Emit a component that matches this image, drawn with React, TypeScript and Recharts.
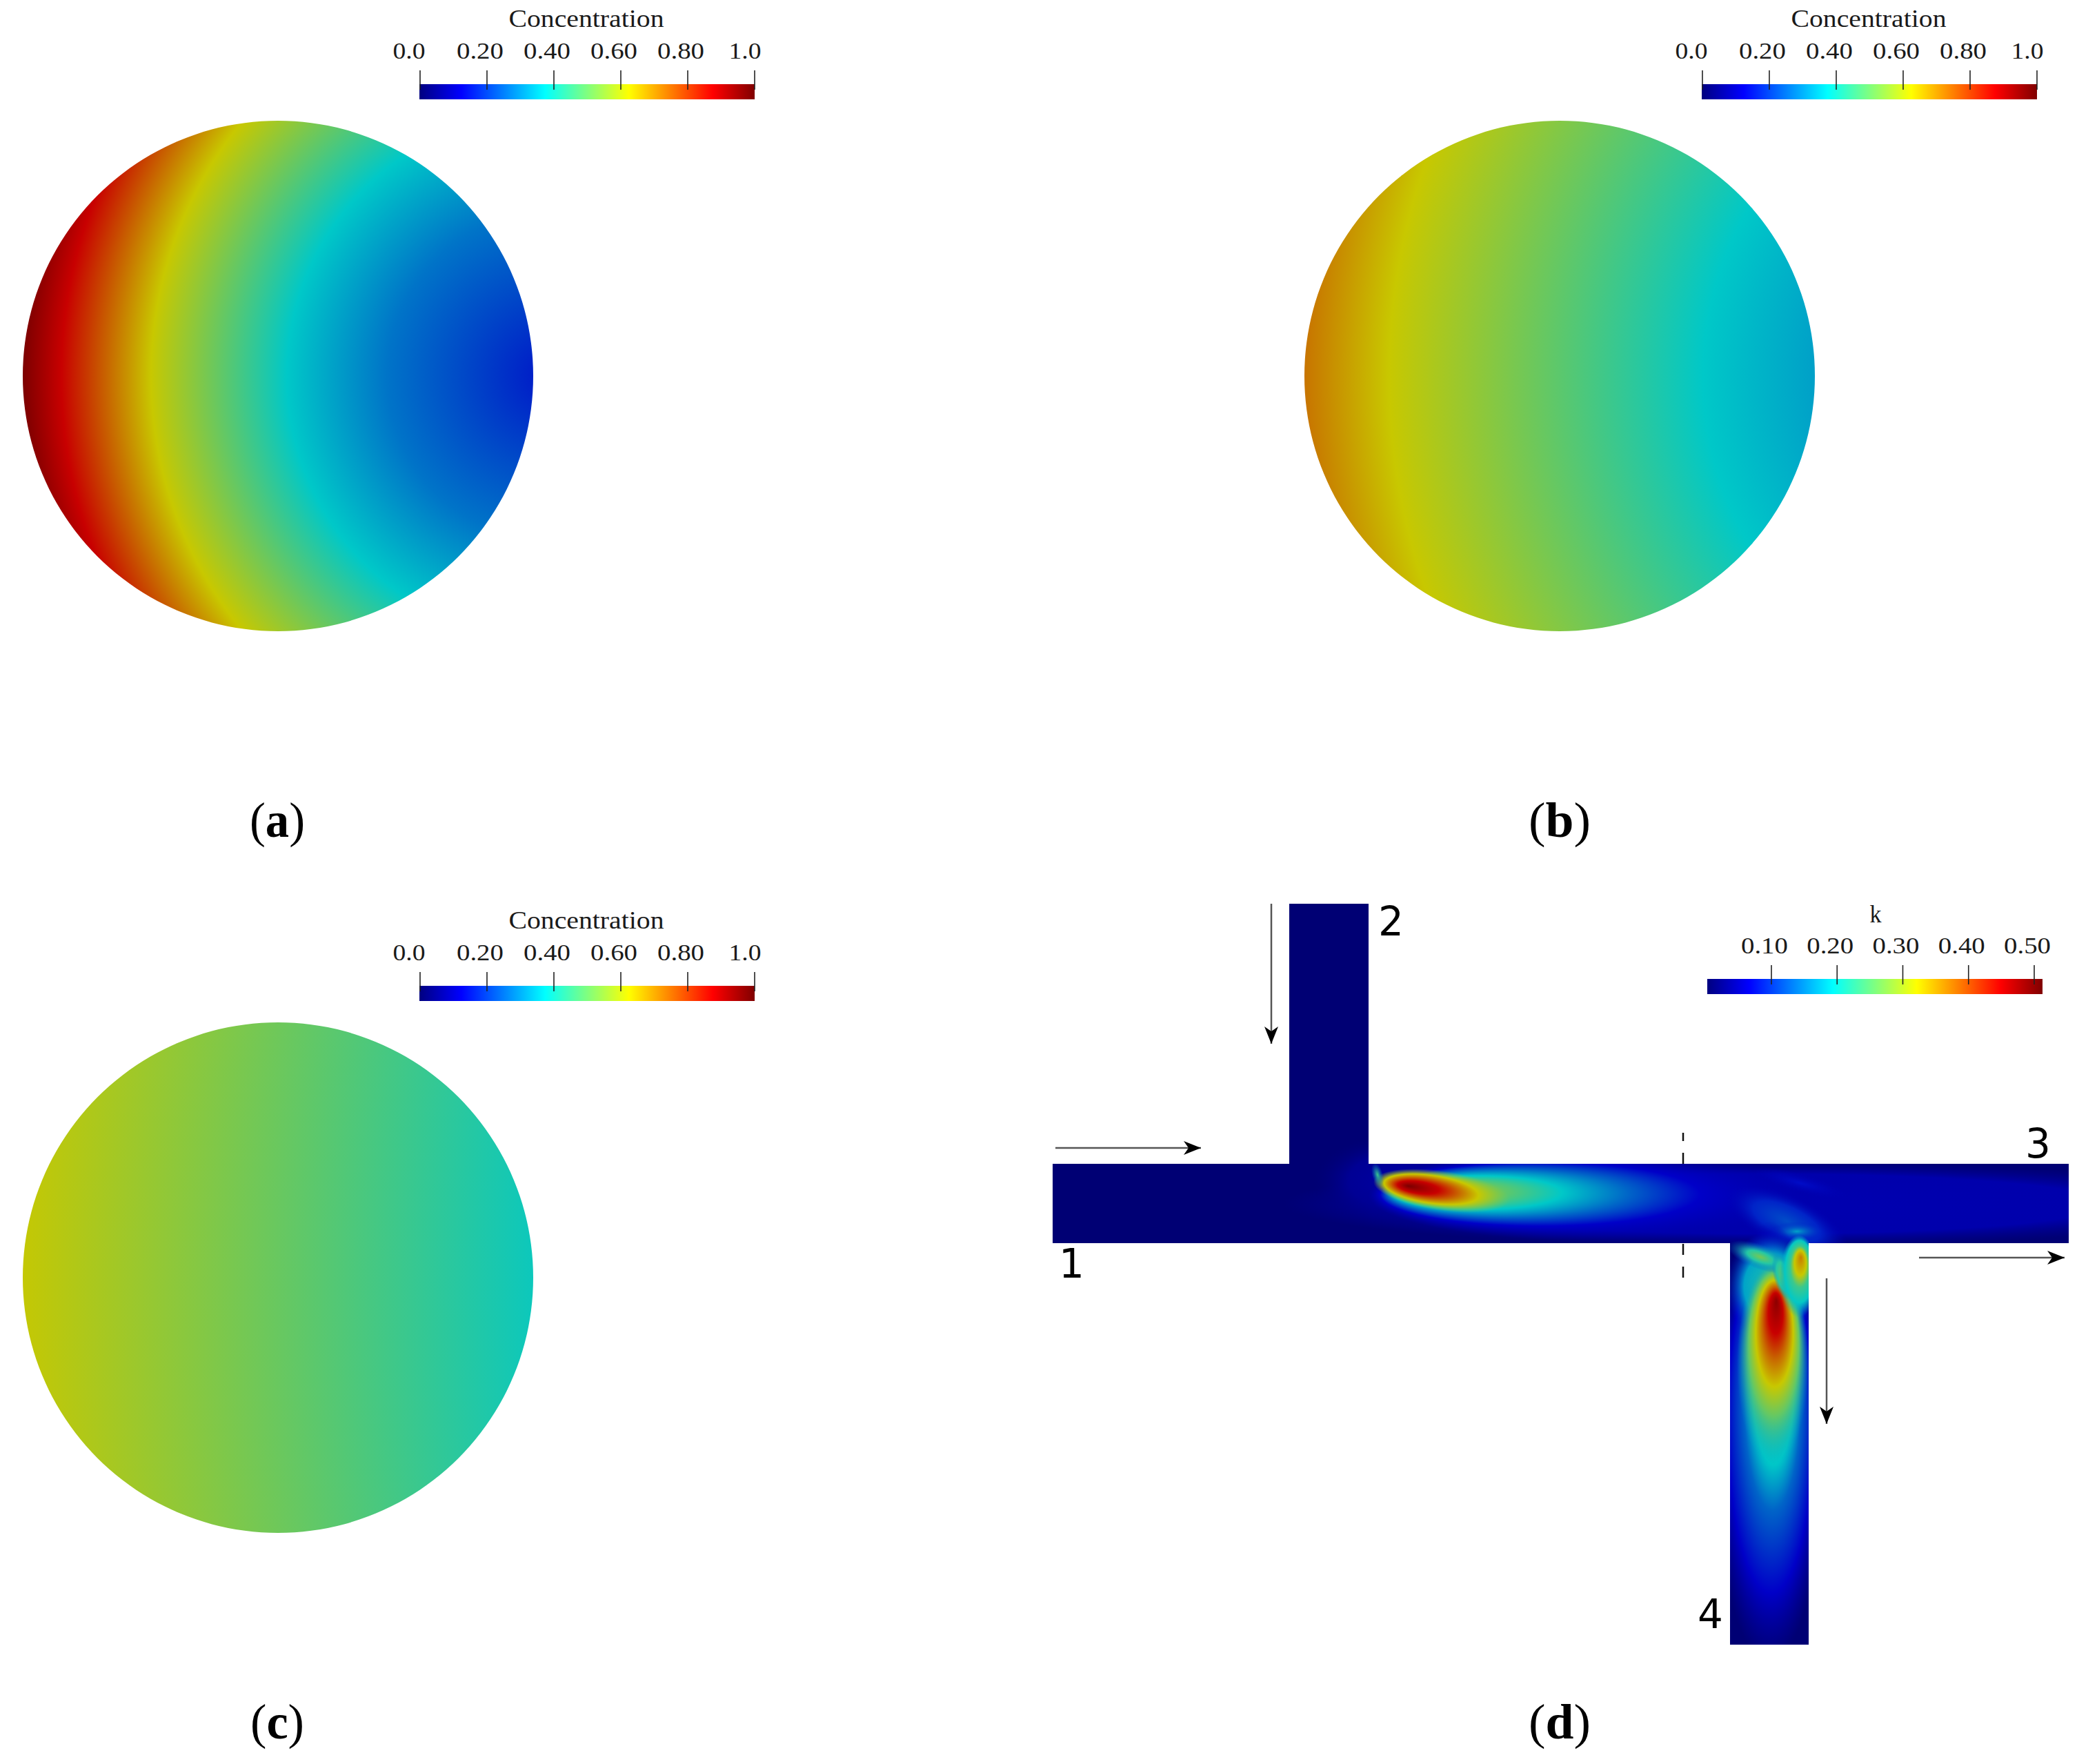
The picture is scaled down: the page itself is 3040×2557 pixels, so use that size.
import { Bar, BarChart, Pie, PieChart, ReferenceArea, ReferenceLine, Scatter, ScatterChart, XAxis, YAxis } from "recharts"

// jet colour map as used by the colour bars
const jetKnots = [0, 0.125, 0.375, 0.625, 0.875, 1]
const jetRed = [0, 0, 0, 1, 1, 0.5]
const jetGreen = [0, 0, 1, 1, 0, 0]
const jetBlue = [0.5, 1, 1, 0, 0, 0]

// colour bars
const concentrationTicks = [0, 0.2, 0.4, 0.6, 0.8, 1]
const concentrationLabels = ["0.0", "0.20", "0.40", "0.60", "0.80", "1.0"]
const concentrationRange = [-0.002, 1]
const kTicks = [0.1, 0.2, 0.3, 0.4, 0.5]
const kLabels = ["0.10", "0.20", "0.30", "0.40", "0.50"]
const kRange = [0.0024, 0.5126]

// concentration against distance from the far point of each disc
const discARadii = [27, 137, 239, 384, 581, 711, 767]
const discAValues = [0.165, 0.22, 0.27, 0.375, 0.625, 0.875, 0.97]
const discBRadii = [319, 481, 936, 1059]
const discBValues = [0.325, 0.375, 0.625, 0.73]
const discCRadii = [2227, 2967]
const discCValues = [0.39, 0.62]

// T junction channels (x1, x2, y1, y2)
const channelX1 = [1526, 1869, 2508]
const channelX2 = [2999, 1984, 2622]
const channelY1 = [1687, 1310, 1802]
const channelY2 = [1802, 1687, 2384]

// k field, read as nested blobs
const blobX = [2560, 2030, 2315, 2590, 2610, 2605, 2565, 2568, 2570, 2552, 2585, 2608, 2090, 1997]
const blobY = [1745, 1712, 1733, 1770, 1715, 1785, 2090, 1865, 1977, 1822, 1850, 1850, 1726, 1703]
const blobRx = [700, 125, 331, 95, 70, 40, 80, 66, 52, 50, 14, 28, 100, 8]
const blobRy = [62, 68, 66, 38, 14, 14, 320, 80, 148, 18, 35, 60, 29, 18]
const blobTilt = [0, 0, 0, 25, 15, 0, 0, 0, 0, 20, -15, 0, 8, -15]
const blobFocusX = [0.5, 0.5, 0.085, 0.5, 0.5, 0.5, 0.56, 0.5, 0.55, 0.5, 0.5, 0.55, 0.255, 0.5]
const blobFocusY = [0.5, 0.5, 0.45, 0.5, 0.5, 0.5, 0.28, 0.5, 0.19, 0.5, 0.5, 0.27, 0.5, 0.5]
const blobStops = [
  [0, 0.7, 1],
  [0, 0.6, 1],
  [0, 0.17, 0.37, 0.53, 0.7, 1],
  [0, 0.55, 1],
  [0, 1],
  [0, 1],
  [0, 0.376, 0.52, 0.78, 1],
  [0, 0.6, 1],
  [0, 0.2, 0.35, 0.52, 0.7, 1],
  [0, 0.4, 1],
  [0, 0.6, 1],
  [0, 0.3, 0.5, 0.75, 1],
  [0, 0.3, 0.69, 1],
  [0, 1],
]
const blobLevels = [
  [0.095, 0.09, 0.06],
  [0.08, 0.06, 0.03],
  [0.6, 0.55, 0.375, 0.25, 0.125, 0.08],
  [0.22, 0.17, 0.1],
  [0.14, 0.1],
  [0.33, 0.15],
  [0.42, 0.375, 0.25, 0.125, 0.09],
  [0.42, 0.33, 0.15],
  [0.95, 0.875, 0.75, 0.625, 0.5, 0.33],
  [0.52, 0.42, 0.25],
  [0.5, 0.42, 0.3],
  [0.72, 0.625, 0.45, 0.38, 0.33],
  [0.97, 0.875, 0.625, 0.55],
  [0.45, 0.3],
]

// flow arrows: tail and tip
const arrowX1 = [1530, 1843, 2782, 2648]
const arrowY1 = [1664, 1310, 1823, 1853]
const arrowX2 = [1741, 1843, 2993, 2648]
const arrowY2 = [1664, 1513, 1823, 2064]
const arrowAngle = [0, 90, 0, 90]

const serif = "'Liberation Serif', serif"

const jet = (c: number, gain: number) => {
  let i = 0
  while (i < jetKnots.length - 2 && c > jetKnots[i + 1]) i++
  const t = Math.min(1, Math.max(0, (c - jetKnots[i]) / (jetKnots[i + 1] - jetKnots[i])))
  const mix = (a: number[]) => Math.round((a[i] + (a[i + 1] - a[i]) * t) * gain)
  return `rgb(${mix(jetRed)},${mix(jetGreen)},${mix(jetBlue)})`
}

// the field is shaded, so it peaks at 200 where the bar peaks at 255
const shaded = (c: number) => jet(c, 200)

function ColorBar({ id, left, top, ticks, labels, range }: any) {
  const data = [{ name: id, value: range }]
  const plotTop = 70
  return (
    <div style={{ position: "absolute", left: left - 40, top: top - plotTop }}>
      <BarChart
        width={566}
        height={plotTop + 22}
        data={data}
        layout="vertical"
        margin={{ top: plotTop - 1, right: 40, bottom: 0, left: 40 }}
        barCategoryGap={0}
      >
        <defs>
          <linearGradient id={id} x1="0" x2="1" y1="0" y2="0">
            {jetKnots.map((k) => (
              <stop key={k} offset={k} stopColor={jet(k, 255)} />
            ))}
          </linearGradient>
        </defs>
        <Bar dataKey="value" fill={`url(#${id})`} isAnimationActive={false} />
        <YAxis type="category" dataKey="name" hide />
        <XAxis
          type="number"
          orientation="top"
          domain={range}
          ticks={ticks}
          interval={0}
          height={1}
          axisLine={false}
          tickLine={false}
          tick={(p: any) => {
            const label = labels[p.index]
            const dx = label === "0.0" ? -16 : label === "1.0" ? -14 : -10
            return (
              <g>
                <text
                  x={p.x + dx}
                  y={plotTop - 37}
                  textAnchor="middle"
                  fontFamily={serif}
                  fontSize={34}
                  fill="#1a1a1a"
                  textLength={label.length === 3 ? 47 : 68}
                  lengthAdjust="spacingAndGlyphs"
                >
                  {label}
                </text>
                <line x1={p.x} x2={p.x} y1={plotTop - 20} y2={plotTop + 8} stroke="#222" strokeWidth={1.6} />
              </g>
            )
          }}
        />
      </BarChart>
    </div>
  )
}

function Disc({ id, x, y, farX, radii, values }: any) {
  const size = 760
  const outer = radii[radii.length - 1]
  return (
    <div style={{ position: "absolute", left: x - size / 2, top: y - size / 2 }}>
      <PieChart width={size} height={size} margin={{ top: 0, right: 0, bottom: 0, left: 0 }}>
        <defs>
          <radialGradient id={id} gradientUnits="userSpaceOnUse" cx={size / 2 + farX - x} cy={size / 2} r={outer}>
            {radii.map((r: number, i: number) => (
              <stop key={r} offset={r / outer} stopColor={shaded(values[i])} />
            ))}
          </radialGradient>
        </defs>
        <Pie
          data={[{ name: id, value: 1 }]}
          dataKey="value"
          cx={size / 2}
          cy={size / 2}
          innerRadius={0}
          outerRadius={370}
          startAngle={0}
          endAngle={360}
          stroke="none"
          fill={`url(#${id})`}
          isAnimationActive={false}
        />
      </PieChart>
    </div>
  )
}

const channels = channelX1.map((x1, i) => ({ x1, x2: channelX2[i], y1: channelY1[i], y2: channelY2[i] }))
const blobs = blobX.map((x, i) => ({ x, y: blobY[i], index: i }))
const arrowTips = arrowX2.map((x, i) => ({ x, y: arrowY2[i], angle: arrowAngle[i] }))

const renderBlob = (p: any) => {
  const i = p.payload.index
  return (
    <g clipPath="url(#channelClip)">
      <ellipse
        cx={p.cx}
        cy={p.cy}
        rx={blobRx[i]}
        ry={blobRy[i]}
        fill={`url(#blob${i})`}
        transform={`rotate(${blobTilt[i]} ${p.cx} ${p.cy})`}
      />
    </g>
  )
}

const renderArrowTip = (p: any) => (
  <path
    d="M0 0 L-25 -10 L-18 0 L-25 10 Z"
    fill="#000"
    transform={`translate(${p.cx} ${p.cy}) rotate(${p.payload.angle})`}
  />
)

function JunctionField() {
  return (
    <div style={{ position: "absolute", left: 0, top: 0 }}>
      <ScatterChart width={3040} height={2557} margin={{ top: 0, right: 0, bottom: 0, left: 0 }}>
        <defs>
          <clipPath id="channelClip">
            {channels.map((c) => (
              <rect key={c.x1} x={c.x1} y={c.y1} width={c.x2 - c.x1} height={c.y2 - c.y1} />
            ))}
          </clipPath>
          {blobStops.map((stops, i) => (
            <radialGradient key={i} id={`blob${i}`} cx={0.5} cy={0.5} r={0.5} fx={blobFocusX[i]} fy={blobFocusY[i]}>
              {stops.map((s, j) => (
                <stop
                  key={s}
                  offset={s}
                  stopColor={shaded(blobLevels[i][j])}
                  stopOpacity={j === stops.length - 1 ? 0 : 1}
                />
              ))}
            </radialGradient>
          ))}
        </defs>
        <XAxis type="number" dataKey="x" domain={[0, 3040]} hide />
        <YAxis type="number" dataKey="y" domain={[0, 2557]} reversed hide />
        {channels.map((c) => (
          <ReferenceArea key={c.x1} {...c} fill={shaded(0.02)} fillOpacity={1} stroke="none" />
        ))}
        <Scatter data={blobs} shape={renderBlob} isAnimationActive={false} />
        <ReferenceLine
          segment={[{ x: 2440, y: 1852 }, { x: 2440, y: 1642 }]}
          stroke="#111"
          strokeWidth={2.5}
          strokeDasharray="16 17"
        />
        {arrowX1.map((x, i) => (
          <ReferenceLine
            key={i}
            segment={[{ x, y: arrowY1[i] }, { x: arrowX2[i], y: arrowY2[i] }]}
            stroke="#555"
            strokeWidth={2.5}
          />
        ))}
        <Scatter data={arrowTips} shape={renderArrowTip} isAnimationActive={false} />
      </ScatterChart>
    </div>
  )
}

function BarTitle({ x, y, width, children }: any) {
  return (
    <text x={x} y={y} textAnchor="middle" fontFamily={serif} fontSize={35} fill="#1a1a1a" textLength={width} lengthAdjust="spacingAndGlyphs">
      {children}
    </text>
  )
}

function PanelLabel({ x, y, letter, width }: any) {
  return (
    <text x={x} y={y} textAnchor="middle" fontFamily={serif} fontSize={72} fill="#000" textLength={width} lengthAdjust="spacingAndGlyphs">
      (<tspan fontWeight="bold">{letter}</tspan>)
    </text>
  )
}

function Overlay() {
  const digit = { fontFamily: "'DejaVu Sans', sans-serif", fontSize: 58, fill: "#000" }
  return (
    <svg width={3040} height={2557} style={{ position: "absolute", left: 0, top: 0 }}>
      <BarTitle x={850} y={39} width={225}>Concentration</BarTitle>
      <BarTitle x={2709} y={39} width={225}>Concentration</BarTitle>
      <BarTitle x={850} y={1346} width={225}>Concentration</BarTitle>
      <BarTitle x={2719} y={1337} width={17}>k</BarTitle>
      <PanelLabel x={402} y={1213} letter="a" width={80} />
      <PanelLabel x={2261} y={1213} letter="b" width={90} />
      <PanelLabel x={402} y={2520} letter="c" width={78} />
      <PanelLabel x={2261} y={2520} letter="d" width={90} />
      <text x={1535} y={1852} {...digit}>1</text>
      <text x={1998} y={1356} {...digit}>2</text>
      <text x={2936} y={1678} {...digit}>3</text>
      <text x={2461} y={2360} {...digit}>4</text>
    </svg>
  )
}

export default function App() {
  return (
    <div style={{ position: "absolute", left: 0, top: 0, width: 3040, height: 2557, background: "#fff", overflow: "hidden" }}>
      <JunctionField />
      <Disc id="discA" x={403} y={545} farX={800} radii={discARadii} values={discAValues} />
      <Disc id="discB" x={2261} y={545} farX={2950} radii={discBRadii} values={discBValues} />
      <Disc id="discC" x={403} y={1852} farX={3000} radii={discCRadii} values={discCValues} />
      <ColorBar id="barA" left={608} top={122} ticks={concentrationTicks} labels={concentrationLabels} range={concentrationRange} />
      <ColorBar id="barB" left={2467} top={122} ticks={concentrationTicks} labels={concentrationLabels} range={concentrationRange} />
      <ColorBar id="barC" left={608} top={1429} ticks={concentrationTicks} labels={concentrationLabels} range={concentrationRange} />
      <ColorBar id="barK" left={2475} top={1419} ticks={kTicks} labels={kLabels} range={kRange} />
      <Overlay />
    </div>
  )
}
